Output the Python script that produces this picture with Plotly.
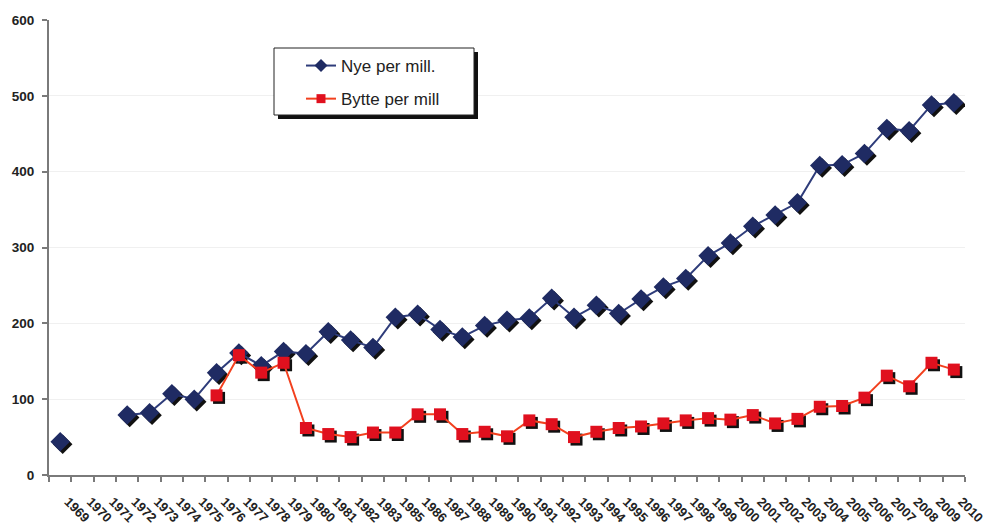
import plotly.graph_objects as go

years = ["1969", "1970", "1971", "1972", "1973", "1974", "1975", "1976", "1977", "1978",
         "1979", "1980", "1981", "1982", "1983", "1985", "1986", "1987", "1988", "1989",
         "1990", "1991", "1992", "1993", "1994", "1995", "1996", "1997", "1998", "1999",
         "2000", "2001", "2002", "2003", "2004", "2005", "2006", "2007", "2008", "2009", "2010"]

nye = [44, None, None, 79, 82, 107, 100, 135, 161, 144,
       163, 160, 189, 178, 168, 208, 212, 192, 182, 197,
       204, 207, 233, 208, 224, 213, 232, 248, 259, 289,
       306, 328, 343, 359, 408, 409, 424, 457, 454, 488, 491]

bytte = [None, None, None, None, None, None, None, 105, 158, 135,
         148, 62, 54, 50, 56, 56, 80, 80, 54, 57,
         51, 72, 67, 50, 57, 62, 64, 68, 72, 75,
         73, 79, 68, 74, 90, 91, 102, 131, 117, 148, 139]

series_names = ["Nye per mill.", "Bytte per mill"]

W, H = 989, 531
ML, MR, MT, MB = 49, 24, 20, 56
PW = W - ML - MR
PH = H - MT - MB
n = len(years)
YMAX = 600

# shadow offset in px
sx, sy = 2.5, 2.5
dx = sx * n / PW
dy = sy * YMAX / PH

NAVY = "#1F2B63"
NAVY_LINE = "#2E3C7A"
RED = "#E0101E"
RED_LINE = "#F2401E"

fig = go.Figure()

# base subplot carrying the visible axes (no marks)
fig.add_trace(go.Scatter(x=years, y=[None] * n, mode="markers", xaxis="x", yaxis="y",
                         showlegend=False, hoverinfo="skip"))

# shadows (markers only)
fig.add_trace(go.Scatter(x=years, y=nye, mode="markers", xaxis="x2", yaxis="y2",
                         marker=dict(symbol="diamond", size=15, color="#111111"),
                         showlegend=False, hoverinfo="skip"))
fig.add_trace(go.Scatter(x=years, y=bytte, mode="markers", xaxis="x2", yaxis="y2",
                         marker=dict(symbol="square", size=12, color="#111111"),
                         showlegend=False, hoverinfo="skip"))

# main series
fig.add_trace(go.Scatter(x=years, y=nye, mode="lines+markers", name=series_names[0],
                         xaxis="x3", yaxis="y3", showlegend=False,
                         line=dict(color=NAVY_LINE, width=2),
                         marker=dict(symbol="diamond", size=15, color=NAVY),
                         connectgaps=False))
fig.add_trace(go.Scatter(x=years, y=bytte, mode="lines+markers", name=series_names[1],
                         xaxis="x3", yaxis="y3", showlegend=False,
                         line=dict(color=RED_LINE, width=2),
                         marker=dict(symbol="square", size=12, color=RED),
                         connectgaps=False))

# legend entries (smaller symbols, as in the original legend)
fig.add_trace(go.Scatter(x=[years[0]], y=[None], mode="lines+markers", name=series_names[0],
                         xaxis="x3", yaxis="y3", legendgroup="a", hoverinfo="skip",
                         line=dict(color=NAVY_LINE, width=2),
                         marker=dict(symbol="diamond", size=10, color=NAVY)))
fig.add_trace(go.Scatter(x=[years[0]], y=[None], mode="lines+markers", name=series_names[1],
                         xaxis="x3", yaxis="y3", legendgroup="b", hoverinfo="skip",
                         line=dict(color=RED_LINE, width=2),
                         marker=dict(symbol="square", size=9, color=RED)))

ytickfont = dict(family="Liberation Sans, Arial", size=13.5, color="#222222", weight="bold")
xtickfont = dict(family="Liberation Sans, Arial", size=13, color="#222222", weight="bold")

xbase = dict(type="category", categoryorder="array", categoryarray=years)
fig.update_layout(
    width=W, height=H,
    margin=dict(l=ML, r=MR, t=MT, b=MB),
    paper_bgcolor="white", plot_bgcolor="white",
    xaxis=dict(**xbase, range=[-0.5, n - 0.5], showgrid=False, showline=True,
               linecolor="#7a7a7a", linewidth=2, ticks="outside", tickson="boundaries",
               ticklen=5, tickcolor="#7a7a7a", tickwidth=1.5, tickangle=45,
               ticklabelstandoff=12, ticklabelshift=8, automargin=False,
               tickfont=xtickfont, zeroline=False, fixedrange=True),
    yaxis=dict(range=[0, YMAX], dtick=100, showgrid=True, gridcolor="#f0f0f0", gridwidth=1,
               showline=True, linecolor="#7a7a7a", linewidth=2, ticks="outside",
               ticklen=5, tickcolor="#7a7a7a", tickwidth=1.5, tickfont=ytickfont,
               ticklabelstandoff=5, automargin=False, zeroline=False, fixedrange=True),
    xaxis2=dict(**xbase, overlaying="x", anchor="y2", range=[-0.5 - dx, n - 0.5 - dx],
                visible=False, fixedrange=True, automargin=False),
    yaxis2=dict(overlaying="y", anchor="x2", range=[dy, YMAX + dy], visible=False,
                fixedrange=True, automargin=False),
    xaxis3=dict(**xbase, overlaying="x", anchor="y3", range=[-0.5, n - 0.5],
                visible=False, fixedrange=True, automargin=False),
    yaxis3=dict(overlaying="y", anchor="x3", range=[0, YMAX], visible=False,
                fixedrange=True, automargin=False),
    legend=dict(x=(301 - ML) / PW, y=(H - MB - 48) / PH, xanchor="left", yanchor="top",
                bgcolor="rgba(0,0,0,0)", borderwidth=0, tracegroupgap=8,
                font=dict(family="Liberation Sans, Arial", size=17, color="#222222")),
    showlegend=True,
)

def px_to_paper_x(px):
    return (px - ML) / PW

def px_to_paper_y(py):
    return (H - MB - py) / PH

# legend box with shadow
fig.add_shape(type="rect", xref="paper", yref="paper",
              x0=px_to_paper_x(278), x1=px_to_paper_x(478),
              y0=px_to_paper_y(119), y1=px_to_paper_y(52),
              fillcolor="#111111", line=dict(width=0), layer="above")
fig.add_shape(type="rect", xref="paper", yref="paper",
              x0=px_to_paper_x(274), x1=px_to_paper_x(474),
              y0=px_to_paper_y(115), y1=px_to_paper_y(48),
              fillcolor="white", line=dict(color="#222222", width=1), layer="above")

fig.write_html("out.html")
